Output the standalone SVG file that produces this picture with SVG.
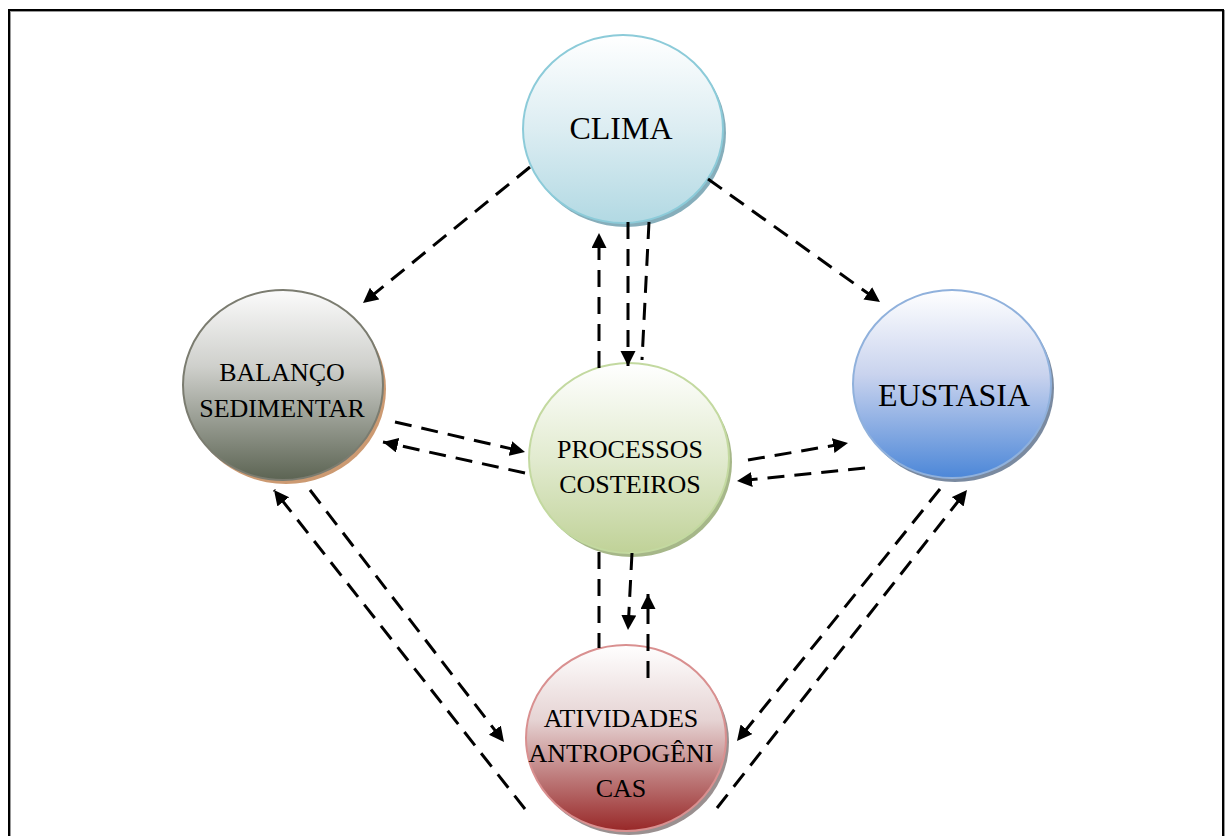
<svg xmlns="http://www.w3.org/2000/svg" width="1232" height="836" viewBox="0 0 1232 836">
<defs>
<linearGradient id="gClima" x1="0" y1="0" x2="0" y2="1"><stop offset="0" stop-color="#ffffff"/><stop offset="0.5" stop-color="#dcedf2"/><stop offset="1" stop-color="#b2d9e3"/></linearGradient>
<linearGradient id="gBal" x1="0" y1="0" x2="0" y2="1"><stop offset="0" stop-color="#fbfbfb"/><stop offset="0.4" stop-color="#cfd0cc"/><stop offset="1" stop-color="#5c6453"/></linearGradient>
<linearGradient id="gEus" x1="0" y1="0" x2="0" y2="1"><stop offset="0" stop-color="#ffffff"/><stop offset="0.45" stop-color="#c9d3ee"/><stop offset="1" stop-color="#4c87d8"/></linearGradient>
<linearGradient id="gProc" x1="0" y1="0" x2="0" y2="1"><stop offset="0" stop-color="#ffffff"/><stop offset="0.5" stop-color="#e2ebd0"/><stop offset="1" stop-color="#c0d298"/></linearGradient>
<linearGradient id="gAtiv" x1="0" y1="0" x2="0" y2="1"><stop offset="0" stop-color="#ffffff"/><stop offset="0.4" stop-color="#e6d4d4"/><stop offset="1" stop-color="#982828"/></linearGradient>
<marker id="ah" markerUnits="userSpaceOnUse" markerWidth="16" markerHeight="16" refX="15" refY="7.5" orient="auto"><path d="M0,0 L15,7.5 L0,15 z" fill="#000"/></marker>
<style>
.lbl{font-family:"Liberation Serif","Times New Roman",serif;fill:#000;text-anchor:middle}
.big{font-size:32px}
.sm{font-size:26px}
.cn line{stroke:#000;stroke-width:3;stroke-dasharray:17 10;fill:none}
.arr{marker-end:url(#ah)}
</style>
</defs>
<rect width="1232" height="836" fill="#fff"/>
<path d="M9,840 V10 H1223 V840" fill="none" stroke="#999" stroke-width="2" transform="translate(1,1)"/>
<path d="M9,840 V10 H1223 V840" fill="none" stroke="#000" stroke-width="2"/>

<g id="clima">
<ellipse cx="626" cy="133" rx="100" ry="94" fill="#86aebb"/>
<ellipse cx="623" cy="129" rx="100" ry="94" fill="url(#gClima)" stroke="#8ccbd9" stroke-width="2"/>
<text class="lbl big" x="621" y="139">CLIMA</text>
</g>

<g id="balanco">
<ellipse cx="286" cy="389" rx="100" ry="95" fill="#cc9a72"/>
<ellipse cx="283" cy="385" rx="100" ry="95" fill="url(#gBal)" stroke="#7b7c70" stroke-width="2"/>
<text class="lbl sm" x="282" y="381">BALANÇO</text>
<text class="lbl sm" x="282" y="417">SEDIMENTAR</text>
</g>

<g id="eustasia">
<ellipse cx="955" cy="388" rx="99" ry="94" fill="#7a8aa0"/>
<ellipse cx="952" cy="384" rx="99" ry="94" fill="url(#gEus)" stroke="#90b1dc" stroke-width="2"/>
<text class="lbl big" x="954" y="406">EUSTASIA</text>
</g>

<g id="processos">
<ellipse cx="632" cy="462" rx="100" ry="95" fill="#a6b789"/>
<ellipse cx="629" cy="458" rx="100" ry="95" fill="url(#gProc)" stroke="#c3d9a0" stroke-width="2"/>
<text class="lbl sm" x="630" y="458">PROCESSOS</text>
<text class="lbl sm" x="630" y="493">COSTEIROS</text>
</g>

<g id="atividades">
<ellipse cx="629" cy="742" rx="100" ry="93" fill="#9a9090"/>
<ellipse cx="626" cy="738" rx="100" ry="93" fill="url(#gAtiv)" stroke="#d99090" stroke-width="2"/>
<text class="lbl sm" x="621" y="727">ATIVIDADES</text>
<text class="lbl sm" x="621" y="762">ANTROPOGÊNI</text>
<text class="lbl sm" x="621" y="797">CAS</text>
</g>

<g id="connectors" class="cn">
<line class="arr" x1="530" y1="167" x2="363" y2="303"/>
<line class="arr" x1="708" y1="179" x2="880" y2="302"/>
<line class="arr" x1="599" y1="368" x2="599" y2="233"/>
<line class="arr" x1="628" y1="222" x2="628" y2="366"/>
<line x1="649" y1="222" x2="642" y2="360"/>
<line class="arr" x1="395" y1="422" x2="525" y2="452"/>
<line class="arr" x1="525" y1="473" x2="383" y2="442"/>
<line class="arr" x1="748" y1="460" x2="848" y2="443"/>
<line class="arr" x1="865" y1="468" x2="737" y2="481"/>
<line x1="599" y1="552" x2="599" y2="648"/>
<line class="arr" x1="632" y1="553" x2="628" y2="630"/>
<line class="arr" x1="648" y1="678" x2="648" y2="594"/>
<line class="arr" x1="525" y1="809" x2="274" y2="490"/>
<line class="arr" x1="310" y1="490" x2="504" y2="742"/>
<line class="arr" x1="940" y1="489" x2="737" y2="741"/>
<line class="arr" x1="717" y1="808" x2="967" y2="490"/>
</g>
</svg>
